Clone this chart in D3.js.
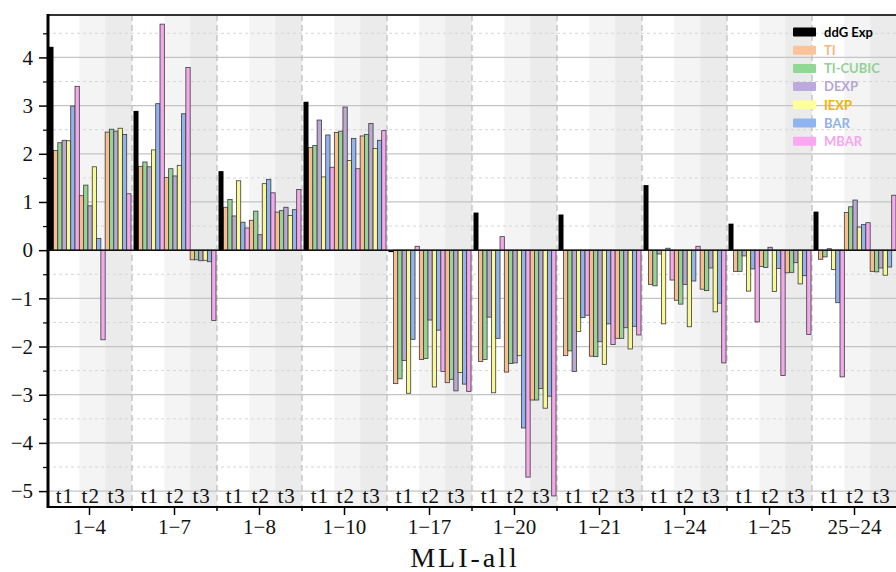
<!DOCTYPE html>
<html>
<head>
<meta charset="utf-8">
<script src="https://cdn.jsdelivr.net/npm/d3@7"></script>
<style>
  body { margin: 0; background: #fff; }
  svg { display: block; }
  .serif { font-family: "Liberation Serif", "DejaVu Serif", "Times New Roman", serif; }
</style>
</head>
<body>
<svg id="chart" width="896" height="572"></svg>
<script>
// pairs of ligands, each with three runs t1..t3
const groups = ['1−4', '1−7', '1−8', '1−10', '1−17', '1−20', '1−21', '1−24', '1−25', '25−24'];
const runs = ['t1', 't2', 't3'];
const methods = ['TI', 'TI-CUBIC', 'DEXP', 'IEXP', 'BAR', 'MBAR'];
const yTicks = [-5, -4, -3, -2, -1, 0, 1, 2, 3, 4];

const ddgExp = [4.22, 2.89, 1.64, 3.08, -0.04, 0.78, 0.74, 1.35, 0.55, 0.80];

// per method: group by group, t1 t2 t3
const ti = [2.07, 1.13, 2.45, 1.74, 1.51, -0.20, 0.89, 0.62, 0.79, 2.13, 2.44, 2.37,
  -2.77, -2.27, -2.75, -2.31, -2.53, -3.11, -2.19, -2.20, -1.83, -0.71, -1.04, -0.81,
  -0.44, -0.34, -0.47, -0.19, 0.78, -0.44];
const tiCubic = [2.23, 1.35, 2.51, 1.83, 1.69, -0.20, 1.05, 0.81, 0.82, 2.17, 2.47, 2.40,
  -2.67, -2.25, -2.68, -2.27, -2.35, -3.11, -2.09, -2.21, -1.83, -0.74, -1.12, -0.84,
  -0.44, -0.36, -0.46, -0.14, 0.90, -0.45];
const dexp = [2.28, 0.92, 2.47, 1.73, 1.54, -0.22, 0.71, 0.32, 0.89, 2.70, 2.97, 2.63,
  -2.29, -1.45, -2.92, -1.39, -2.34, -2.87, -2.52, -1.90, -1.61, -0.08, -0.71, -0.37,
  -0.12, 0.06, -0.26, 0.03, 1.04, -0.37];
const iexp = [2.27, 1.73, 2.53, 2.08, 1.76, -0.21, 1.44, 1.38, 0.72, 1.52, 1.86, 2.11,
  -2.97, -2.84, -2.54, -2.96, -2.19, -3.28, -1.69, -2.37, -2.05, -1.53, -1.59, -1.28,
  -0.85, -0.86, -0.70, -0.40, 0.48, -0.52];
const bar = [2.99, 0.24, 2.40, 3.04, 2.83, -0.24, 0.58, 1.47, 0.84, 2.39, 2.32, 2.28,
  -1.85, -1.66, -2.78, -1.83, -3.69, -3.03, -1.40, -1.53, -1.58, 0.04, -0.64, -1.10,
  -0.39, -0.38, -0.53, -1.09, 0.53, -0.35];
const mbar = [3.40, -1.86, 1.17, 4.69, 3.79, -1.46, 0.46, 1.19, 1.26, 1.72, 1.69, 2.48,
  0.08, -2.52, -2.93, 0.28, -4.71, -5.10, -1.35, -1.96, -1.76, -0.62, 0.08, -2.34,
  -1.49, -2.60, -1.75, -2.63, 0.57, 1.14];

const seriesValues = [ti, tiCubic, dexp, iexp, bar, mbar];
const barColors = ['#f8bd8e', '#98d396', '#b9a9d3', '#f8f894', '#91b4ec', '#f4a9ec'];
const legendText = ['#f7b684', '#93d195', '#b6a6d6', '#f2b400', '#8fb1ee', '#f6a6ee'];
const legendSwatch = ['#fcc29a', '#92d894', '#bbaadb', '#ffff9c', '#90b4f0', '#fba8f2'];

const svg = d3.select('#chart');
const margin = { top: 15, left: 47, bottom: 507 };
const groupW = 85;
const plotRight = margin.left + groupW * groups.length;

const x0 = d3.scaleBand().domain(groups).range([margin.left, plotRight]).paddingInner(0).paddingOuter(0);
const xRun = d3.scaleBand().domain(runs).range([6.5, 84]);
const xMethod = d3.scaleBand().domain(methods).range([0, xRun.bandwidth()]);
const y = d3.scaleLinear().domain([-5.33, 4.88]).range([margin.bottom, margin.top]);

const plot = svg.append('g');

// shaded bands for t2 / t3
groups.forEach(g => {
  const gx = x0(g);
  plot.append('rect')
    .attr('x', gx + xRun('t2')).attr('y', margin.top)
    .attr('width', xRun('t3') - xRun('t2')).attr('height', margin.bottom - margin.top)
    .attr('fill', '#f4f4f4');
  plot.append('rect')
    .attr('x', gx + xRun('t3')).attr('y', margin.top)
    .attr('width', groupW - xRun('t3')).attr('height', margin.bottom - margin.top)
    .attr('fill', '#ebebeb');
});

// grid
const minor = d3.range(-5, 5, 1).map(d => d + 0.5).filter(d => d < 4.88);
plot.selectAll('.minor').data(minor).enter().append('line')
  .attr('x1', margin.left).attr('x2', plotRight)
  .attr('y1', d => y(d)).attr('y2', d => y(d))
  .attr('stroke', '#d6d6d6').attr('stroke-width', 1).attr('stroke-dasharray', '3,3');
plot.selectAll('.major').data(yTicks).enter().append('line')
  .attr('x1', margin.left).attr('x2', plotRight)
  .attr('y1', d => y(d)).attr('y2', d => y(d))
  .attr('stroke', '#c4c4c4').attr('stroke-width', 1.3);
plot.selectAll('.vgrid').data(groups.slice(1)).enter().append('line')
  .attr('x1', d => x0(d)).attr('x2', d => x0(d))
  .attr('y1', margin.top).attr('y2', margin.bottom)
  .attr('stroke', '#bdbdbd').attr('stroke-width', 1.2).attr('stroke-dasharray', '6,4');

// bars
const bars = [];
groups.forEach((g, gi) => {
  runs.forEach((r, ri) => {
    methods.forEach((m, mi) => {
      bars.push({ g, r, m, mi, v: seriesValues[mi][gi * 3 + ri] });
    });
  });
});

plot.selectAll('.bar').data(bars).enter().append('rect')
  .attr('x', d => x0(d.g) + xRun(d.r) + xMethod(d.m))
  .attr('width', xMethod.bandwidth())
  .attr('y', d => y(Math.max(0, d.v)))
  .attr('height', d => Math.abs(y(d.v) - y(0)))
  .attr('fill', d => barColors[d.mi])
  .attr('stroke', '#3a3a3a').attr('stroke-width', 0.8);

plot.selectAll('.exp').data(groups).enter().append('rect')
  .attr('x', d => x0(d) + 1.5)
  .attr('width', 5)
  .attr('y', (d, i) => y(Math.max(0, ddgExp[i])))
  .attr('height', (d, i) => Math.abs(y(ddgExp[i]) - y(0)))
  .attr('fill', '#000');

// zero line
plot.append('line')
  .attr('x1', margin.left).attr('x2', plotRight)
  .attr('y1', y(0)).attr('y2', y(0))
  .attr('stroke', '#111').attr('stroke-width', 1.5);

// run labels inside plot
groups.forEach(g => {
  runs.forEach(r => {
    plot.append('text')
      .attr('class', 'serif')
      .attr('x', x0(g) + xRun(r) + xRun.bandwidth() / 2 - 1.5)
      .attr('y', 503)
      .attr('text-anchor', 'middle')
      .attr('font-size', 21)
      .attr('letter-spacing', 1)
      .attr('fill', '#111')
      .text(r);
  });
});

// spines
svg.append('line').attr('x1', margin.left).attr('x2', plotRight)
  .attr('y1', margin.top).attr('y2', margin.top)
  .attr('stroke', '#333').attr('stroke-width', 2);
svg.append('line').attr('x1', margin.left).attr('x2', plotRight)
  .attr('y1', margin.bottom).attr('y2', margin.bottom)
  .attr('stroke', '#000').attr('stroke-width', 2);
svg.append('line').attr('x1', 48).attr('x2', 48)
  .attr('y1', margin.top - 1).attr('y2', margin.bottom + 1)
  .attr('stroke', '#000').attr('stroke-width', 3);

// y axis
const yAxis = svg.append('g').attr('transform', 'translate(47,0)')
  .call(d3.axisLeft(y).tickValues(yTicks).tickSize(8).tickPadding(6)
    .tickFormat(d => d < 0 ? '−' + Math.abs(d) : d));
yAxis.attr('font-family', null);
yAxis.select('.domain').remove();
yAxis.selectAll('line').attr('stroke', '#000').attr('stroke-width', 1.5);
yAxis.selectAll('text').attr('class', 'serif').attr('font-size', 21).attr('fill', '#111');
svg.append('g').attr('transform', 'translate(47,0)')
  .call(d3.axisLeft(y).tickValues(minor).tickSize(4).tickFormat(''))
  .call(a => a.select('.domain').remove())
  .selectAll('line').attr('stroke', '#000').attr('stroke-width', 1.2);

// x axis
const xAxis = svg.append('g').attr('transform', `translate(0,${margin.bottom})`)
  .call(d3.axisBottom(x0).tickSize(8).tickPadding(4));
xAxis.attr('font-family', null);
xAxis.select('.domain').remove();
xAxis.selectAll('line').attr('stroke', '#000').attr('stroke-width', 1.5);
xAxis.selectAll('text').attr('class', 'serif').attr('font-size', 21).attr('fill', '#111');
svg.append('g').attr('transform', `translate(0,${margin.bottom})`)
  .selectAll('line').data(groups.slice(1)).enter().append('line')
  .attr('x1', d => x0(d)).attr('x2', d => x0(d)).attr('y1', 0).attr('y2', 4)
  .attr('stroke', '#000').attr('stroke-width', 1.5);

svg.append('text')
  .attr('class', 'serif')
  .attr('x', 465).attr('y', 567)
  .attr('text-anchor', 'middle')
  .attr('font-size', 28)
  .attr('letter-spacing', 3)
  .attr('fill', '#111')
  .text('MLI-all');

// legend
const legendItems = ['ddG Exp'].concat(methods);
const lg = svg.append('g').attr('transform', 'translate(793,32)');
legendItems.forEach((name, i) => {
  const row = lg.append('g').attr('transform', `translate(0,${i * 18.2})`);
  row.append('rect').attr('x', 0).attr('y', -4.5).attr('width', 23).attr('height', 9)
    .attr('rx', 1)
    .attr('fill', i === 0 ? '#000' : legendSwatch[i - 1]);
  row.append('text').attr('x', 31).attr('y', 4.8)
    .attr('font-family', 'Lato, sans-serif')
    .attr('font-weight', 'bold')
    .attr('font-size', 13)
    .attr('fill', i === 0 ? '#000' : legendText[i - 1])
    .text(name);
});
</script>
</body>
</html>
